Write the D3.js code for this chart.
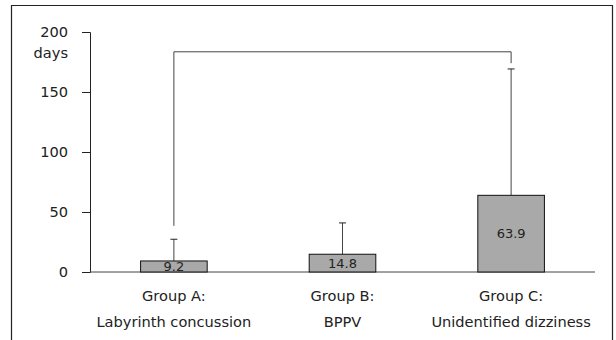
<!DOCTYPE html>
<html>
<head>
<meta charset="utf-8">
<script src="https://cdn.jsdelivr.net/npm/d3@7"></script>
<style>
  body { margin: 0; background: #fff; }
  text { font-family: "DejaVu Sans", sans-serif; fill: #222; }
</style>
</head>
<body>
<div class="canva"></div>
<script>
// data
const groups = ["Group A", "Group B", "Group C"];
const groupNames = ["Labyrinth concussion", "BPPV", "Unidentified dizziness"];
const means = [9.2, 14.8, 63.9];
const sdTops = [27.3, 40.9, 169.2];
const yTicks = [0, 50, 100, 150, 200];
// significance bracket: from group, to group, height, leg ends
const bracketFrom = "Group A";
const bracketTo = "Group C";
const bracketTop = 183.5;
const bracketEnds = [38.5, 174];

const W = 616, H = 340;
const margin = { left: 90, right: 21, top: 32, bottom: 68 };
const font = "DejaVu Sans, sans-serif";
const labelSize = 14.6;

const svg = d3.select(".canva").append("svg").attr("width", W).attr("height", H);

// outer frame (open at the bottom like the cropped original)
svg.append("path")
  .attr("d", `M11.5,${H + 2}V5.5H612.5V${H + 2}`)
  .attr("fill", "none")
  .attr("stroke", "#222")
  .attr("stroke-width", 1.2);

const x = d3.scaleBand()
  .domain(groups)
  .range([margin.left, W - margin.right])
  .paddingInner(0.605)
  .paddingOuter(0.3);

const y = d3.scaleLinear()
  .domain([0, 200])
  .range([H - margin.bottom, margin.top]);

// y axis
const yAxis = svg.append("g")
  .attr("transform", `translate(${margin.left},0)`)
  .call(d3.axisLeft(y).tickValues(yTicks).tickSize(8).tickPadding(14));
yAxis.select(".domain").attr("stroke", "#222");
yAxis.selectAll(".tick line").attr("stroke", "#222");
yAxis.selectAll(".tick text").attr("font-size", labelSize).attr("fill", "#222")
  .attr("font-family", font);

svg.append("text")
  .text("days")
  .attr("x", 68)
  .attr("y", y(200) + 21)
  .attr("dy", "0.35em")
  .attr("text-anchor", "end")
  .attr("font-size", labelSize);

// baseline
svg.append("line")
  .attr("x1", margin.left)
  .attr("x2", W - margin.right)
  .attr("y1", y(0))
  .attr("y2", y(0))
  .attr("stroke", "#444");

const rows = groups.map((g, i) => ({ g, name: groupNames[i], mean: means[i], top: sdTops[i] }));

// error bars (upper only)
const err = svg.append("g").selectAll("g").data(rows).join("g");
err.append("line")
  .attr("x1", d => x(d.g) + x.bandwidth() / 2)
  .attr("x2", d => x(d.g) + x.bandwidth() / 2)
  .attr("y1", d => y(d.mean))
  .attr("y2", d => y(d.top))
  .attr("stroke", "#444");
err.append("line")
  .attr("x1", d => x(d.g) + x.bandwidth() / 2 - 3.5)
  .attr("x2", d => x(d.g) + x.bandwidth() / 2 + 3.5)
  .attr("y1", d => y(d.top))
  .attr("y2", d => y(d.top))
  .attr("stroke", "#222");

// bars
svg.append("g").selectAll("rect").data(rows).join("rect")
  .attr("x", d => x(d.g))
  .attr("y", d => y(d.mean))
  .attr("width", x.bandwidth())
  .attr("height", d => y(0) - y(d.mean))
  .attr("fill", "#a9a9a9")
  .attr("stroke", "#111")
  .attr("stroke-width", 1);

// value labels
svg.append("g").selectAll("text").data(rows).join("text")
  .text(d => d.mean)
  .attr("x", d => x(d.g) + x.bandwidth() / 2)
  .attr("y", d => (y(d.mean) + y(0)) / 2)
  .attr("dy", "0.35em")
  .attr("text-anchor", "middle")
  .attr("font-size", 13);

// category labels
const lab = svg.append("g").selectAll("g").data(rows).join("g");
lab.append("text")
  .text(d => d.g + ":")
  .attr("x", d => x(d.g) + x.bandwidth() / 2)
  .attr("y", y(0) + 24)
  .attr("dy", "0.35em")
  .attr("text-anchor", "middle")
  .attr("font-size", labelSize);
lab.append("text")
  .text(d => d.name)
  .attr("x", d => x(d.g) + x.bandwidth() / 2)
  .attr("y", y(0) + 50)
  .attr("dy", "0.35em")
  .attr("text-anchor", "middle")
  .attr("font-size", labelSize);

// significance bracket
const bx1 = x(bracketFrom) + x.bandwidth() / 2;
const bx2 = x(bracketTo) + x.bandwidth() / 2;
svg.append("path")
  .attr("d", `M${bx1},${y(bracketEnds[0])}V${y(bracketTop)}H${bx2}V${y(bracketEnds[1])}`)
  .attr("fill", "none")
  .attr("stroke", "#444");
</script>
</body>
</html>
